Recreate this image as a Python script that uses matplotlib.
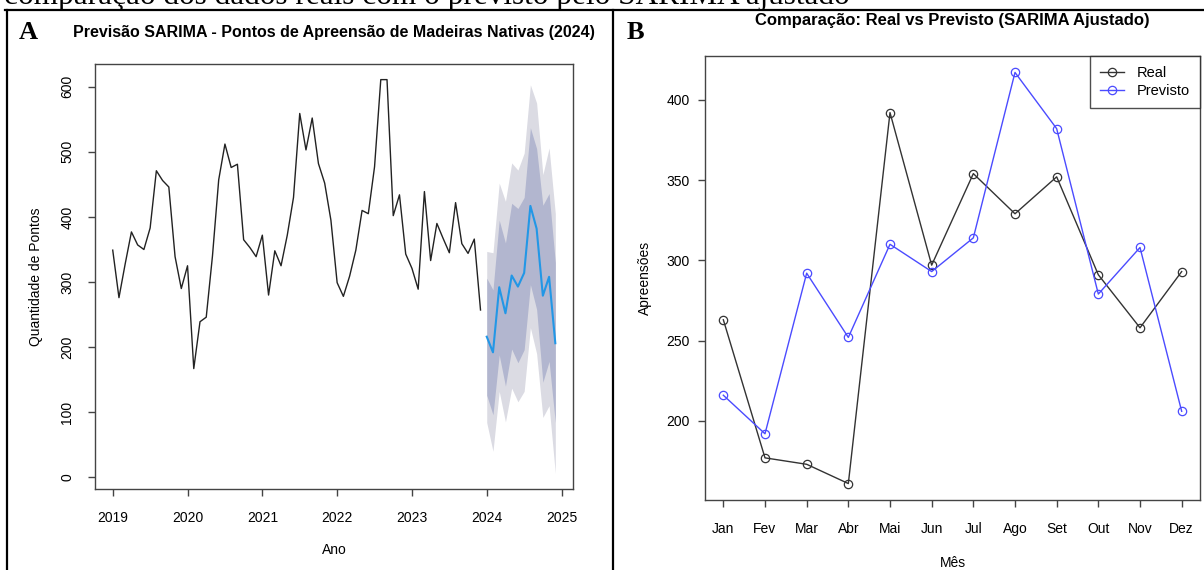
import numpy as np
import matplotlib.pyplot as plt
from matplotlib.lines import Line2D

plt.rcParams['font.family'] = ['Liberation Sans', 'DejaVu Sans']

W, H = 1204, 570

# serie mensal 2019-2023 (pontos de apreensao)
hist = [349, 276, 328, 377, 357, 350, 383, 471, 456, 446, 339, 290,
        325, 167, 239, 246, 340, 457, 512, 476, 481, 365, 353, 339,
        372, 280, 348, 325, 372, 430, 559, 503, 552, 482, 452, 395,
        299, 278, 309, 349, 410, 405, 477, 611, 611, 402, 434, 343,
        321, 289, 439, 333, 390, 367, 345, 422, 359, 344, 366, 257]

# previsao 2024 e intervalos
prev = [216, 192, 292, 252, 310, 293, 314, 417, 382, 279, 308, 206]
hi80 = [306, 288, 395, 360, 421, 413, 430, 537, 505, 418, 436, 330]
lo80 = [126, 96, 188, 140, 197, 176, 196, 296, 258, 146, 178, 84]
hi95 = [347, 345, 452, 424, 483, 472, 498, 603, 575, 465, 506, 405]
lo95 = [84, 40, 132, 85, 137, 116, 132, 230, 190, 92, 110, 6]

# painel B
meses = ['Jan', 'Fev', 'Mar', 'Abr', 'Mai', 'Jun',
         'Jul', 'Ago', 'Set', 'Out', 'Nov', 'Dez']
real = [263, 177, 173, 161, 392, 297, 354, 329, 352, 291, 258, 293]

anos = [2019, 2020, 2021, 2022, 2023, 2024, 2025]


def px_axes(fig, l, t, r, b):
    return fig.add_axes([l / W, 1 - b / H, (r - l) / W, (b - t) / H])


def r_style(ax):
    for s in ax.spines.values():
        s.set_color('#444444')
        s.set_linewidth(1.0)
    ax.tick_params(direction='out', length=5, width=1.0, color='#444444',
                   labelsize=10, labelcolor='black')


fig = plt.figure(figsize=(W / 100, H / 100), dpi=100)

# ---- painel A ----
axA = px_axes(fig, 95, 64, 573, 489)
r_style(axA)
t_hist = 2019 + np.arange(len(hist)) / 12
t_prev = 2024 + np.arange(len(prev)) / 12
axA.fill_between(t_prev, lo95, hi95, color='#dbdbe3', lw=0)
axA.fill_between(t_prev, lo80, hi80, color='#b2b6cf', lw=0)
axA.plot(t_hist, hist, color='#222222', lw=1.0)
axA.plot(t_prev, prev, color='#2297e6', lw=1.5)
axA.set_xlim(2018.763, 2025.153)
axA.set_ylim(-18, 635)
axA.set_xticks(anos)
axA.set_yticks(range(0, 601, 100))
axA.tick_params(axis='x', pad=11)
axA.tick_params(axis='y', pad=10)
for lb in axA.get_yticklabels():
    lb.set_rotation(90)
    lb.set_va('center')
axA.set_xlabel('Ano', fontsize=10, labelpad=13)
axA.set_ylabel('Quantidade de Pontos', fontsize=10, labelpad=12)
fig.text(334 / W, 1 - 32 / H,
         'Previsão SARIMA - Pontos de Apreensão de Madeiras Nativas (2024)',
         fontsize=11.5, fontweight='bold', ha='center', va='center')

# ---- painel B ----
axB = px_axes(fig, 705, 56, 1200, 500)
r_style(axB)
x = np.arange(1, 13)
axB.plot(x, real, color='#333333', lw=1.0, marker='o', ms=6, mfc='none',
         mew=0.9, label='Real')
axB.plot(x, prev, color='#4b4bff', lw=1.0, marker='o', ms=6, mfc='none',
         mew=0.9, label='Previsto')
axB.set_xlim(0.56, 12.44)
axB.set_ylim(150.76, 427.24)
axB.set_xticks(x)
axB.set_xticklabels(meses)
axB.set_yticks(range(200, 401, 50))
axB.tick_params(axis='x', pad=11)
axB.tick_params(axis='y', pad=6)
axB.set_xlabel('Mês', fontsize=10, labelpad=14)
axB.set_ylabel('Apreensões', fontsize=10, labelpad=10)
fig.text(952 / W, 1 - 20 / H, 'Comparação: Real vs Previsto (SARIMA Ajustado)',
         fontsize=12, fontweight='bold', ha='center', va='center')
leg = axB.legend(loc='upper right', borderaxespad=0, fancybox=False,
                 fontsize=10.5, handlelength=1.6, handletextpad=0.9,
                 borderpad=0.7, labelspacing=0.25)
leg.get_frame().set_edgecolor('#222222')
leg.get_frame().set_linewidth(1.0)

# ---- moldura do documento ----
ytop = 1 - 10 / H
fig.add_artist(Line2D([5 / W, 1], [ytop, ytop], color='black', lw=1.6,
                      transform=fig.transFigure))
fig.add_artist(Line2D([7 / W, 7 / W], [0, ytop], color='black', lw=1.6,
                      transform=fig.transFigure))
fig.add_artist(Line2D([613 / W, 613 / W], [0, ytop], color='black', lw=1.6,
                      transform=fig.transFigure))

fig.text(4 / W, 1 - 4 / H,
         'comparação dos dados reais com o previsto pelo SARIMA ajustado',
         fontfamily='Liberation Serif', fontsize=22.5, va='baseline')
fig.text(19 / W, 1 - 39 / H, 'A', fontfamily='Liberation Serif',
         fontsize=19, fontweight='bold', va='baseline')
fig.text(627 / W, 1 - 39 / H, 'B', fontfamily='Liberation Serif',
         fontsize=19, fontweight='bold', va='baseline')

fig.savefig('out.png', dpi=100)
